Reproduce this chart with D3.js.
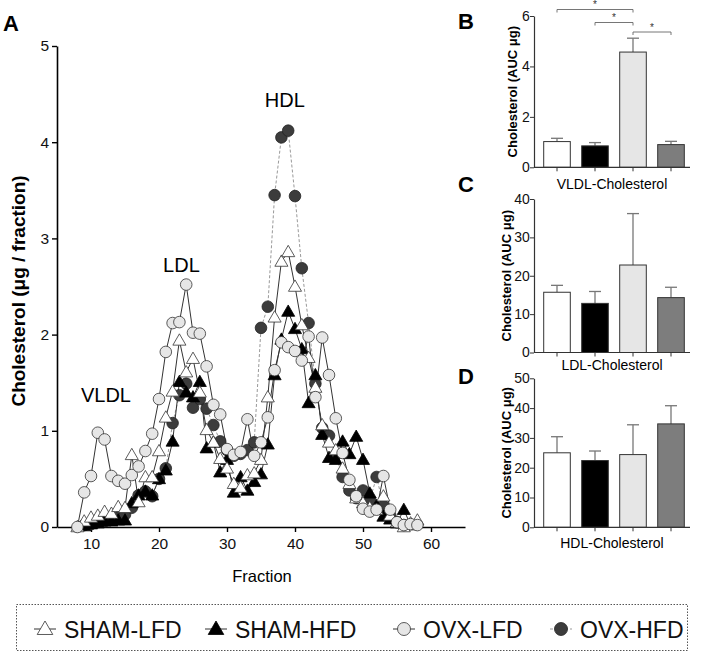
<!DOCTYPE html>
<html><head><meta charset="utf-8">
<script src="https://cdn.jsdelivr.net/npm/d3@7"></script>
<style>
html,body{margin:0;padding:0;background:#fff;}
svg{display:block;font-family:"Liberation Sans",Arial,sans-serif;}
</style></head>
<body>
<svg id="c" width="703" height="658"></svg>
<script>
// ---------- DATA ----------
const fractions = [8,9,10,11,12,13,14,15,16,17,18,19,20,21,22,23,24,25,26,27,28,29,30,31,32,33,34,35,36,37,38,39,40,41,42,43,44,45,46,47,48,49,50,51,52,53,54,55,56,57,58];
const shamLFD = [0.00,0.06,0.10,0.12,0.16,0.14,0.21,0.20,0.75,0.26,0.52,0.52,0.79,1.14,1.41,1.94,1.61,1.75,1.40,1.01,0.88,0.71,0.61,0.45,0.41,0.54,0.56,0.70,1.35,2.18,2.76,2.86,2.50,2.10,1.76,1.45,1.06,0.88,0.80,0.61,0.45,0.30,0.25,0.20,0.18,0.32,0.12,0.05,0.00,0.04,0.07];
const shamHFD = [null,0.01,0.03,0.04,0.06,0.06,0.07,0.07,0.25,0.33,0.37,0.33,0.50,0.59,0.89,1.51,1.40,1.35,1.51,0.82,0.88,0.57,0.70,0.36,0.52,0.38,0.47,0.55,0.86,1.58,1.95,2.24,2.06,1.85,1.29,1.58,0.96,0.72,0.70,0.89,0.76,0.94,0.70,0.35,0.22,0.11,0.08,0.04,0.18,0.02,null];
const ovxLFD  = [0.00,0.36,0.53,0.98,0.91,0.53,0.48,0.45,0.54,0.63,0.79,0.97,1.33,1.82,2.12,2.13,2.52,2.02,2.01,1.67,1.27,1.17,0.81,0.75,0.78,1.12,0.74,0.88,1.14,1.63,1.92,1.87,1.83,1.73,1.98,1.35,1.97,1.58,1.13,0.77,0.49,0.32,0.19,0.16,0.18,0.53,0.18,0.05,0.02,0.03,0.02];
const ovxHFD  = [null,0.02,0.03,0.05,0.06,0.08,0.10,0.13,0.20,0.33,0.37,0.32,0.50,0.61,1.08,1.37,1.49,1.24,1.33,1.23,1.06,0.89,0.80,0.74,0.76,0.80,0.88,2.07,2.29,3.45,4.05,4.12,3.44,2.69,2.12,1.49,1.03,0.95,0.75,0.52,0.38,0.30,0.38,0.28,0.52,0.22,0.12,0.05,0.02,null,null];

const groups = ["SHAM-LFD","SHAM-HFD","OVX-LFD","OVX-HFD"];
const vldlMean = [1.02,0.85,4.57,0.90];
const vldlErr  = [0.13,0.13,0.55,0.13];
const ldlMean  = [15.7,12.8,22.8,14.3];
const ldlErr   = [1.8,3.1,13.4,2.7];
const hdlMean  = [25.0,22.4,24.4,34.7];
const hdlErr   = [5.4,3.2,10.0,6.1];
const mainYTicks = [0,1,2,3,4,5];
const mainXTicks = [10,20,30,40,50,60];
const vldlTicks = [0,2,4,6];
const ldlTicks = [0,10,20,30,40];
const hdlTicks = [0,10,20,30,40,50];
const peakLabels = [{t:"VLDL",f:12.2,v:1.3},{t:"LDL",f:23.3,v:2.65},{t:"HDL",f:38.5,v:4.37}];

// ---------- STYLES ----------
const styles = {
  "SHAM-LFD":{shape:"tri", fill:"#ffffff", stroke:"#333", line:"#333", dash:null},
  "SHAM-HFD":{shape:"tri", fill:"#000000", stroke:"#000", line:"#333", dash:null},
  "OVX-LFD": {shape:"circ",fill:"#e6e6e6", stroke:"#333", line:"#333", dash:null},
  "OVX-HFD": {shape:"circ",fill:"#3c3c3c", stroke:"#222", line:"#999", dash:"3,2"}
};
const barFill = ["#ffffff","#000000","#e6e6e6","#7d7d7d"];
const FONT = "Liberation Sans, Arial, sans-serif";
const fmt = d3.format("d");

const svg = d3.select("#c");

// ---------- PANEL A ----------
const x = d3.scaleLinear().domain([5,65]).range([57,465]);
const y = d3.scaleLinear().domain([0,5]).range([527,46]);

const gA = svg.append("g");
const xAx = gA.append("g").attr("transform","translate(0,527)")
  .call(d3.axisBottom(x).tickValues(mainXTicks).tickFormat(fmt).tickSize(5).tickSizeOuter(0));
const yAx = gA.append("g").attr("transform","translate(57,0)")
  .call(d3.axisLeft(y).tickValues(mainYTicks).tickFormat(fmt).tickSize(5).tickSizeOuter(0));
[xAx,yAx].forEach(a=>{
  a.select(".domain").attr("stroke","#000").attr("stroke-width",1.6);
  a.selectAll(".tick line").attr("stroke","#000").attr("stroke-width",1.4);
  a.selectAll(".tick text").attr("font-size",15.5).attr("fill","#111").attr("font-family",FONT);
});
xAx.selectAll(".tick text").attr("dy","0.9em");

gA.append("text").attr("x",262).attr("y",582).attr("text-anchor","middle")
  .attr("font-size",16.5).text("Fraction");
gA.append("text").attr("transform","translate(25,291) rotate(-90)").attr("text-anchor","middle")
  .attr("font-size",19).attr("font-weight","bold").text("Cholesterol (\u03BCg / fraction)");

peakLabels.forEach(p=>{
  gA.append("text").attr("x",x(p.f)).attr("y",y(p.v)).attr("text-anchor","middle")
    .attr("font-size",20).text(p.t);
});

const seriesData = [
  {name:"OVX-HFD", vals:ovxHFD},
  {name:"SHAM-HFD", vals:shamHFD},
  {name:"SHAM-LFD", vals:shamLFD},
  {name:"OVX-LFD", vals:ovxLFD}
];
const line = d3.line().defined(d=>d.v!=null).x(d=>x(d.f)).y(d=>y(d.v));
const tri = d3.symbol().type(d3.symbolTriangle).size(74);

seriesData.forEach(s=>{
  const st = styles[s.name];
  const pts = fractions.map((f,i)=>({f, v:s.vals[i]})).filter(d=>d.v!=null);
  gA.append("path").datum(pts).attr("d",line).attr("fill","none")
    .attr("stroke",st.line).attr("stroke-width",1).attr("stroke-dasharray",st.dash);
});
seriesData.forEach(s=>{
  const st = styles[s.name];
  const pts = fractions.map((f,i)=>({f, v:s.vals[i]})).filter(d=>d.v!=null);
  if(st.shape==="circ"){
    gA.append("g").selectAll("circle").data(pts).join("circle")
      .attr("cx",d=>x(d.f)).attr("cy",d=>y(d.v)).attr("r",5.8)
      .attr("fill",st.fill).attr("stroke",st.stroke).attr("stroke-width",0.8);
  } else {
    gA.append("g").selectAll("path").data(pts).join("path")
      .attr("transform",d=>`translate(${x(d.f)},${y(d.v)+1})`).attr("d",tri)
      .attr("fill",st.fill).attr("stroke",st.stroke).attr("stroke-width",0.8);
  }
});

// panel letters
[["A",3,31],["B",458,29],["C",458,192],["D",458,384]].forEach(([t,px,py])=>{
  svg.append("text").attr("x",px).attr("y",py).attr("font-size",22).attr("font-weight","bold").text(t);
});

// ---------- BAR PANELS ----------
function barPanel(mean, err, ticks, domMax, y0px, y1px, label, labelY, ylabX){
  const g = svg.append("g");
  const xb = d3.scaleBand().domain(groups).range([538,690]).paddingInner(0.3).paddingOuter(0.15);
  const yb = d3.scaleLinear().domain([0,domMax]).range([y0px,y1px]);
  groups.forEach((gname,i)=>{
    const cx = xb(gname)+xb.bandwidth()/2;
    const top = yb(mean[i]+err[i]);
    g.append("line").attr("x1",cx).attr("x2",cx).attr("y1",yb(mean[i])).attr("y2",top)
      .attr("stroke","#777").attr("stroke-width",1.3);
    g.append("line").attr("x1",cx-6).attr("x2",cx+6).attr("y1",top).attr("y2",top)
      .attr("stroke","#777").attr("stroke-width",1.3);
  });
  g.selectAll("rect").data(groups).join("rect")
    .attr("x",d=>xb(d)).attr("width",xb.bandwidth())
    .attr("y",(d,i)=>yb(mean[i])).attr("height",(d,i)=>y0px-yb(mean[i]))
    .attr("fill",(d,i)=>barFill[i]).attr("stroke","#333").attr("stroke-width",1);
  const ya = g.append("g").attr("transform","translate(534,0)")
    .call(d3.axisLeft(yb).tickValues(ticks).tickFormat(fmt).tickSize(4).tickSizeOuter(0));
  ya.select(".domain").attr("stroke","#333").attr("stroke-width",1.2);
  ya.selectAll(".tick line").attr("stroke","#333");
  ya.selectAll(".tick text").attr("font-size",14).attr("fill","#111").attr("font-family",FONT).attr("dx","0.2em");
  g.append("line").attr("x1",534).attr("x2",690).attr("y1",y0px).attr("y2",y0px).attr("stroke","#333").attr("stroke-width",1.2);
  groups.forEach(gname=>{
    const cx = xb(gname)+xb.bandwidth()/2;
    g.append("line").attr("x1",cx).attr("x2",cx).attr("y1",y0px).attr("y2",y0px+4).attr("stroke","#333");
  });
  g.append("text").attr("x",612).attr("y",labelY).attr("text-anchor","middle").attr("font-size",14).text(label);
  g.append("text").attr("transform",`translate(${ylabX},${(y0px+y1px)/2}) rotate(-90)`).attr("text-anchor","middle")
    .attr("font-size",13).attr("font-weight","bold").text("Cholesterol (AUC \u03BCg)");
  return {g,xb,yb};
}

const B = barPanel(vldlMean, vldlErr, vldlTicks, 6, 167.3, 16, "VLDL-Cholesterol", 189, 517);
barPanel(ldlMean, ldlErr, ldlTicks, 40, 352.5, 199, "LDL-Cholesterol", 370, 511);
barPanel(hdlMean, hdlErr, hdlTicks, 50, 527.3, 378.3, "HDL-Cholesterol", 548, 511);

// significance brackets in B
const sig = [[0,2,9.5],[1,2,22.5],[2,3,32]];
sig.forEach(([a,b,yy])=>{
  const xa = B.xb(groups[a])+B.xb.bandwidth()/2, xc = B.xb(groups[b])+B.xb.bandwidth()/2;
  B.g.append("path").attr("d",`M${xa},${yy+3}V${yy}H${xc}V${yy+3}`).attr("fill","none")
    .attr("stroke","#666").attr("stroke-width",0.9);
  B.g.append("text").attr("x",(xa+xc)/2).attr("y",yy-1.5).attr("text-anchor","middle")
    .attr("font-size",10).attr("fill","#333").text("*");
});

// ---------- LEGEND ----------
const lg = svg.append("g");
lg.append("rect").attr("x",16.5).attr("y",604.5).attr("width",671).attr("height",46)
  .attr("fill","none").attr("stroke","#555").attr("stroke-width",1).attr("stroke-dasharray","1.5,1.5");
const legPos = [{n:"SHAM-LFD",sx:45,tx:64},{n:"SHAM-HFD",sx:216,tx:235},{n:"OVX-LFD",sx:404,tx:423},{n:"OVX-HFD",sx:561,tx:580}];
legPos.forEach(p=>{
  const st = styles[p.n];
  lg.append("line").attr("x1",p.sx-11).attr("x2",p.sx+11).attr("y1",629).attr("y2",629)
    .attr("stroke",st.line).attr("stroke-width",1).attr("stroke-dasharray",st.dash);
  if(st.shape==="circ"){
    lg.append("circle").attr("cx",p.sx).attr("cy",629).attr("r",6.5).attr("fill",st.fill).attr("stroke",st.stroke).attr("stroke-width",0.8);
  } else {
    lg.append("path").attr("transform",`translate(${p.sx},630)`).attr("d",d3.symbol().type(d3.symbolTriangle).size(105)())
      .attr("fill",st.fill).attr("stroke",st.stroke).attr("stroke-width",0.8);
  }
  lg.append("text").attr("x",p.tx).attr("y",637.5).attr("font-size",23).attr("fill","#111").text(p.n);
});
</script>
</body></html>
